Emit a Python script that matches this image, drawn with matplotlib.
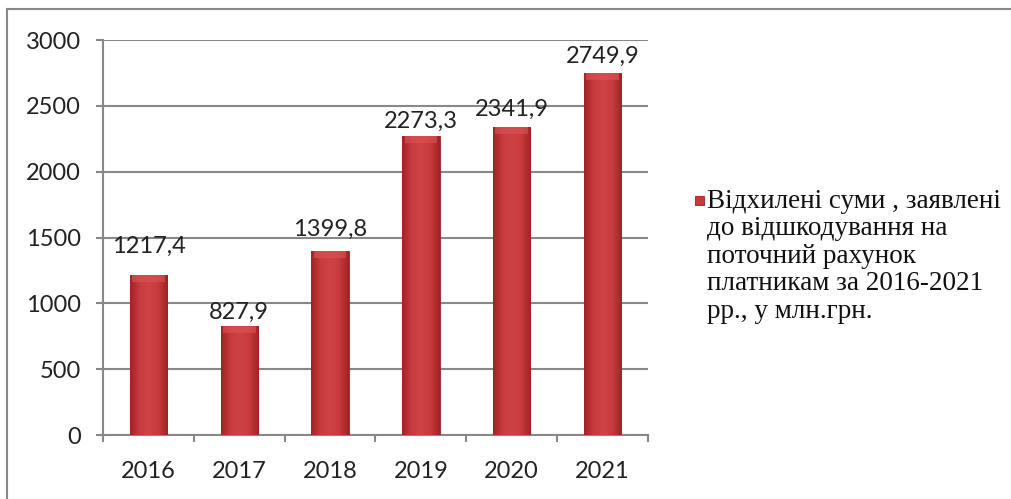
import numpy as np
import matplotlib.pyplot as plt
from matplotlib.patches import Rectangle
from matplotlib.lines import Line2D
from matplotlib.colors import LinearSegmentedColormap

years = ['2016', '2017', '2018', '2019', '2020', '2021']
values = [1217.4, 827.9, 1399.8, 2273.3, 2341.9, 2749.9]
labels = ['1217,4', '827,9', '1399,8', '2273,3', '2341,9', '2749,9']
legend_text = ('Відхилені суми , заявлені\nдо відшкодування на\n'
               'поточний рахунок\nплатникам за 2016-2021\nрр., у млн.грн.')
# label lift above each bar, in pixels (as placed in the original)
label_lift = [28, 14, 21, 14, 17, 17]

W, H = 1012, 499
fig = plt.figure(figsize=(W / 100, H / 100), dpi=100)
ax = fig.add_axes([103 / W, (H - 435) / H, (648 - 103) / W, (435 - 40) / H])

x = np.arange(len(years))
bw = 0.41
bars = ax.bar(x, values, width=bw, color='#C53A3B', edgecolor='#9A2325', linewidth=0.6, zorder=3)

# horizontal shading on the bars
cmap = LinearSegmentedColormap.from_list('bar', ['#9E2426', '#C83B3C', '#D04344', '#C83B3C', '#9E2426'])
grad = np.linspace(0, 1, 64).reshape(1, -1)
for b in bars:
    bx, by = b.get_x(), b.get_y()
    im = ax.imshow(grad, cmap=cmap, aspect='auto', zorder=3.5,
                   extent=[bx, bx + b.get_width(), by, by + b.get_height()])
    im.set_clip_path(b)
    # lighter top bevel
    ax.add_patch(Rectangle((bx + 0.025, b.get_height() - 55), b.get_width() - 0.05, 55,
                           facecolor='#DA5556', edgecolor='none', zorder=3.6, alpha=0.6))

for i, (v, t) in enumerate(zip(values, labels)):
    ax.annotate(t, (i, v), xytext=(0, label_lift[i]), textcoords='offset pixels', ha='center',
                va='center', fontsize=17, family='Lato', color='#222222')

ax.set_xlim(-0.5, 5.5)
ax.set_ylim(0, 3000)
ax.set_yticks(range(0, 3001, 500))
ax.set_xticks(list(x))
ax.set_xticklabels(years)
ax.set_xticks([i - 0.5 for i in range(len(years) + 1)], minor=True)
ax.tick_params(axis='x', which='major', length=0, pad=19)
ax.tick_params(axis='x', which='minor', length=5, color='#888888', width=1.5)
ax.tick_params(axis='y', length=5, color='#888888', width=1.5, pad=11)
for lab in ax.get_xticklabels() + ax.get_yticklabels():
    lab.set_fontsize(17)
    lab.set_family('Lato')
    lab.set_color('#222222')

ax.grid(axis='y', color='#888888', linewidth=1.5, zorder=0)
for s in ['top', 'right']:
    ax.spines[s].set_visible(False)
for s in ['left', 'bottom']:
    ax.spines[s].set_color('#888888')
    ax.spines[s].set_linewidth(1.5)

# outer frame (only top and left visible)
fig.add_artist(Line2D([7 / W, 7 / W], [0, 1 - 9 / H], transform=fig.transFigure, color='#888888', lw=1.5))
fig.add_artist(Line2D([7 / W, 1], [1 - 9 / H, 1 - 9 / H], transform=fig.transFigure, color='#888888', lw=1.5))

# legend
fig.add_artist(Rectangle((695 / W, 1 - 205 / H), 9 / W, 9 / H, transform=fig.transFigure,
                         facecolor='#C53A3B', edgecolor='#9A2325', lw=0.6))
fig.text(707 / W, 1 - 189 / H, legend_text, ha='left', va='top', fontsize=19.5,
         family='Liberation Serif', color='#111111', linespacing=1.13)

fig.savefig('out.png', dpi=100)
